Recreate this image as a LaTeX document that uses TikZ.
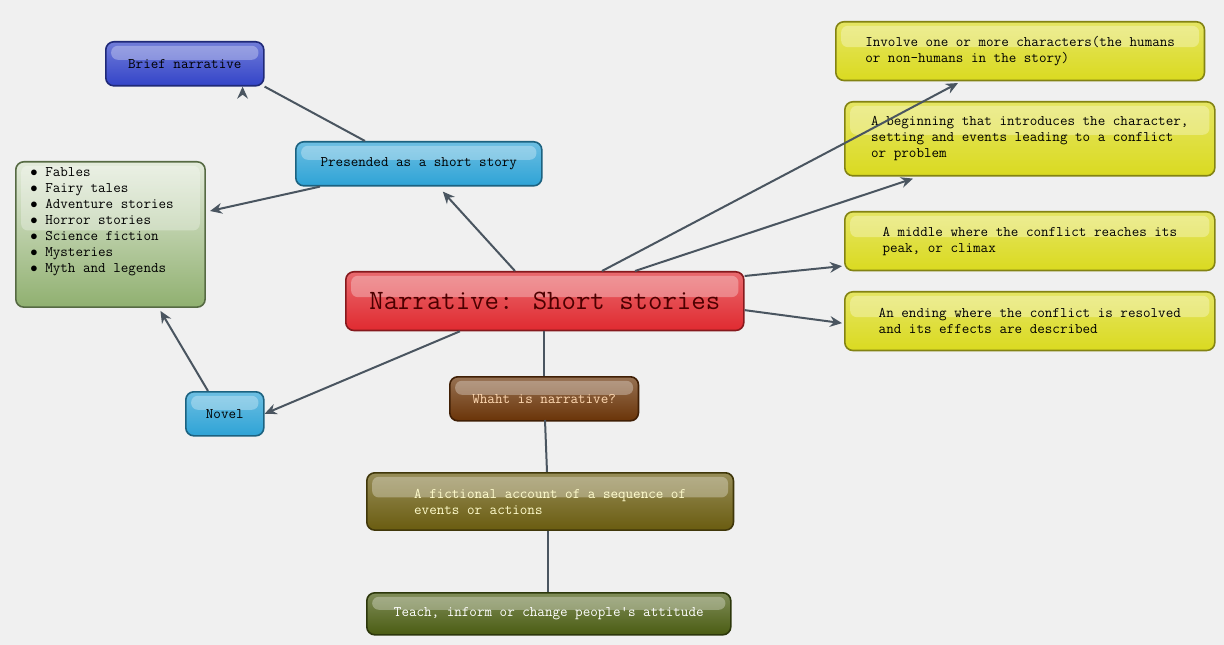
\documentclass[tikz,border=0pt]{standalone}
\usetikzlibrary{arrows.meta,calc}
\definecolor{bg}{HTML}{F0F0F0}
\definecolor{ln}{HTML}{4A5560}
\tikzset{
 bx/.style n args={3}{draw=#1!60!black, line width=1.2pt, rounded corners=6pt, top color=#1!70!white, bottom color=#1, text=#2, font=\fontsize{11}{12}\selectfont\ttfamily, align=left, anchor=north west, inner xsep=12pt, minimum width=#3, path picture={\fill[white,opacity=.3,rounded corners=5pt] ($(path picture bounding box.north west)+(4pt,-3pt)$) rectangle ($(path picture bounding box.east)+(-4pt,3pt)$);}},
 con/.style={draw=ln, line width=1.5pt},
 arr/.style={con, -{Stealth[length=9pt,width=8pt]}},
}
\begin{document}
\begin{tikzpicture}[x=0.75pt,y=-0.75pt]
\fill[bg] (0,0) rectangle (1224,645);
\useasboundingbox (0,0) rectangle (1224,645);
\definecolor{cblue}{HTML}{3344C8}
\definecolor{ccyan}{HTML}{2EA3D6}
\definecolor{cgreen}{HTML}{90B070}
\definecolor{cred}{HTML}{E02A30}
\definecolor{cbrown}{HTML}{6A3408}
\definecolor{colive}{HTML}{6A5C10}
\definecolor{cdg}{HTML}{4A5C12}
\definecolor{cyel}{HTML}{DADA20}
\node[bx={cblue}{black}{118.5pt}, minimum height=33pt] (brief) at (105,41) {Brief narrative};
\node[bx={ccyan}{black}{184.5pt}, minimum height=33pt] (pres) at (295,141) {Presended as a short story};
\node[bx={cgreen}{black}{142pt}, minimum height=109pt, top color=cgreen!25!white, inner xsep=10pt, anchor=north west] (list) at (15,161) {\raisebox{0pt}{}%
\begin{minipage}[t][96pt][t]{120pt}\vspace{-2pt}$\bullet$ Fables\\$\bullet$ Fairy tales\\$\bullet$ Adventure stories\\$\bullet$ Horror stories\\$\bullet$ Science fiction\\$\bullet$ Mysteries\\$\bullet$ Myth and legends\end{minipage}};
\node[bx={cred}{black!70!red}{298.5pt}, minimum height=44pt, font=\fontsize{21}{24}\selectfont\ttfamily] (main) at (345,271) {Narrative: Short stories};
\node[bx={ccyan}{black}{58.5pt}, minimum height=33pt, inner xsep=8pt] (novel) at (185,391) {Novel};
\node[bx={cbrown}{orange!30!white}{141.5pt}, minimum height=33pt] (what) at (449,376) {Whaht is narrative?};
\node[bx={colive}{yellow!20!white}{275pt}, minimum height=43pt] (fict) at (366,472) {A fictional account of a sequence of\\events or actions};
\node[bx={cdg}{white}{273pt}, minimum height=31.5pt] (teach) at (366,592) {Teach, inform or change people's attitude};
\node[bx={cyel}{black}{276.5pt}, minimum height=44pt] (inv) at (835,21) {Involve one or more characters(the humans\\or non-humans in the story)};
\node[bx={cyel}{black}{277.5pt}, minimum height=55.5pt] (beg) at (844,101) {A beginning that introduces the character,\\setting and events leading to a conflict\\or problem};
\node[bx={cyel}{black}{277.5pt}, minimum height=44pt] (mid) at (844,211) {A middle where the conflict reaches its\\peak, or climax};
\node[bx={cyel}{black}{277.5pt}, minimum height=44pt] (end) at (844,291) {An ending where the conflict is resolved\\and its effects are described};
\coordinate (a1) at (958,83);
\draw[arr] (pres.north west)++(70,0) -- (brief.south east)++(-22,0);
\draw[arr] ($(pres.south west)+(25,0)$) -- (210,211);
\draw[arr] ($(main.north west)+(170,0)$) -- ($(pres.south)+(24,5)$);
\draw[arr] ($(main.south west)+(115,0)$) -- (novel.east);
\draw[arr] ($(novel.north west)+(23,0)$) -- ($(list.south)+(50,3)$);
\draw[con] ($(main.north west)+(257,0)$) -- (845,143);
\draw[arr] (845,143) -- (a1);
\draw[arr] ($(main.north west)+(290,0)$) -- ($(beg.south west)+(69,2)$);
\draw[arr] ($(main.north east)+(0,5)$) -- ($(mid.west)+(-2,25)$);
\draw[arr] ($(main.east)+(0,9)$) -- ($(end.west)+(-2,2)$);
\draw[con] ($(main.south west)+(199,0)$) -- (what.north -| 544,0);
\draw[con] (545,420) -- (fict.north -| 547,0);
\draw[con] (fict.south -| 548,0) -- (teach.north -| 548,0);
\end{tikzpicture}
\end{document}
